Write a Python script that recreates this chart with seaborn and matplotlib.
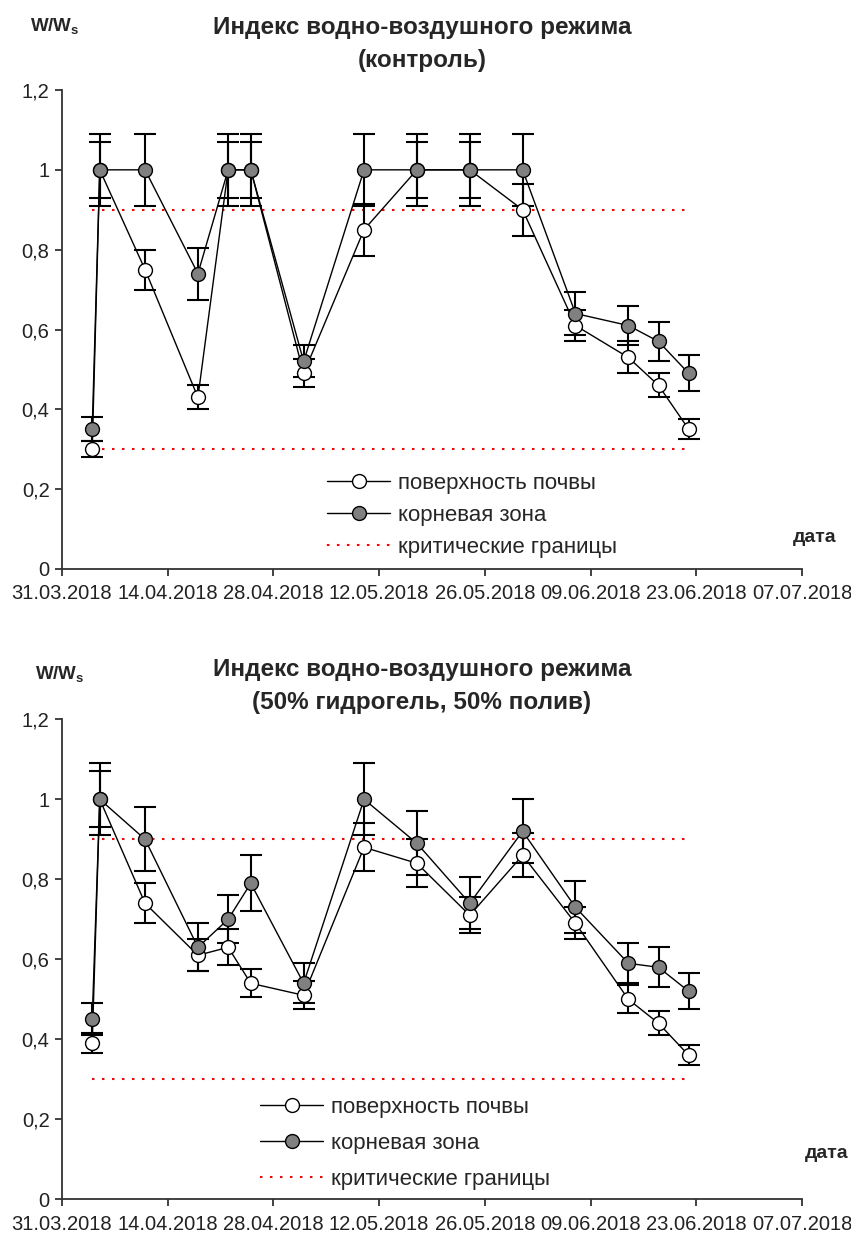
import numpy as np
import pandas as pd
import matplotlib
matplotlib.use("Agg")
import matplotlib.pyplot as plt
import matplotlib.dates as mdates
from matplotlib.lines import Line2D
from matplotlib.ticker import FuncFormatter, MultipleLocator
import seaborn as sns

# --- measurement dates ---
dates = ["04.04.2018", "05.04.2018", "11.04.2018", "18.04.2018", "22.04.2018",
         "25.04.2018", "02.05.2018", "10.05.2018", "17.05.2018", "24.05.2018",
         "31.05.2018", "07.06.2018", "14.06.2018", "18.06.2018", "22.06.2018"]

# --- control plot ---
ctrl_surface = [0.30, 1.00, 0.75, 0.43, 1.00, 1.00, 0.49, 0.85, 1.00, 1.00,
                0.90, 0.61, 0.53, 0.46, 0.35]
ctrl_surface_err = [0.02, 0.07, 0.05, 0.03, 0.07, 0.07, 0.035, 0.065, 0.07, 0.07,
                    0.065, 0.04, 0.04, 0.03, 0.025]
ctrl_root = [0.35, 1.00, 1.00, 0.74, 1.00, 1.00, 0.52, 1.00, 1.00, 1.00,
             1.00, 0.64, 0.61, 0.57, 0.49]
ctrl_root_err = [0.03, 0.09, 0.09, 0.065, 0.09, 0.09, 0.04, 0.09, 0.09, 0.09,
                 0.09, 0.055, 0.05, 0.05, 0.045]

# --- 50% hydrogel, 50% irrigation plot ---
gel_surface = [0.39, 1.00, 0.74, 0.61, 0.63, 0.54, 0.51, 0.88, 0.84, 0.71,
               0.86, 0.69, 0.50, 0.44, 0.36]
gel_surface_err = [0.025, 0.07, 0.05, 0.04, 0.045, 0.035, 0.035, 0.06, 0.06, 0.045,
                   0.055, 0.04, 0.035, 0.03, 0.025]
gel_root = [0.45, 1.00, 0.90, 0.63, 0.70, 0.79, 0.54, 1.00, 0.89, 0.74,
            0.92, 0.73, 0.59, 0.58, 0.52]
gel_root_err = [0.04, 0.09, 0.08, 0.06, 0.06, 0.07, 0.05, 0.09, 0.08, 0.065,
                0.08, 0.065, 0.05, 0.05, 0.045]

# critical bounds of the index
critical = [0.3, 0.9]

titles = ["Индекс водно-воздушного режима\n(контроль)",
          "Индекс водно-воздушного режима\n(50% гидрогель, 50% полив)"]
legend_labels = ["поверхность почвы", "корневая зона", "критические границы"]
x_start, x_end = "31.03.2018", "07.07.2018"

sns.set_style("white")
plt.rcParams["font.family"] = ["Liberation Sans", "DejaVu Sans"]

W, H = 851, 1239
fig = plt.figure(figsize=(W / 100, H / 100), dpi=100)

x = pd.to_datetime(dates, format="%d.%m.%Y")
xs = pd.to_datetime(x_start, format="%d.%m.%Y")
xe = pd.to_datetime(x_end, format="%d.%m.%Y")

def px_rect(left, top, right, bottom):
    return [left / W, 1 - bottom / H, (right - left) / W, (bottom - top) / H]

panels = [
    dict(rect=px_rect(62, 90, 802, 569), surf=ctrl_surface, surf_err=ctrl_surface_err,
         root=ctrl_root, root_err=ctrl_root_err, title_y=16, ylab=(30, 27),
         date_xy=(815, 538), leg=(327, 472.5), leg_sp=0.5),
    dict(rect=px_rect(62, 719.3, 802, 1199.3), surf=gel_surface, surf_err=gel_surface_err,
         root=gel_root, root_err=gel_root_err, title_y=658, ylab=(35, 675),
         date_xy=(827, 1153), leg=(260, 1096.5), leg_sp=0.68),
]

dot_style = (0, (1.2, 3.6))

for p, title in zip(panels, titles):
    ax = fig.add_axes(p["rect"])

    # critical bounds
    for c in critical:
        ax.plot([x[0], x[-1]], [c, c], color="#ff0000", lw=1.5,
                linestyle=dot_style, zorder=1)

    # error bars
    ax.errorbar(x, p["surf"], yerr=p["surf_err"], fmt="none", ecolor="black",
                elinewidth=1.5, capsize=8, capthick=1.5, zorder=2)
    ax.errorbar(x, p["root"], yerr=p["root_err"], fmt="none", ecolor="black",
                elinewidth=1.5, capsize=8, capthick=1.5, zorder=3)

    # series lines with markers
    sns.lineplot(x=x, y=p["surf"], ax=ax, sort=False, color="black", lw=1,
                 marker="o", markersize=10, markerfacecolor="white",
                 markeredgecolor="black", markeredgewidth=1, zorder=4)
    sns.lineplot(x=x, y=p["root"], ax=ax, sort=False, color="black", lw=1,
                 marker="o", markersize=10, markerfacecolor="#808080",
                 markeredgecolor="black", markeredgewidth=1, zorder=5)

    ax.set_xlim(xs, xe)
    ax.set_ylim(0, 1.2)
    ax.set_xticks(pd.date_range(xs, xe, freq="14D"))
    ax.xaxis.set_major_formatter(mdates.DateFormatter("%d.%m.%Y"))
    ax.yaxis.set_major_locator(MultipleLocator(0.2))
    ax.yaxis.set_major_formatter(FuncFormatter(
        lambda v, pos: ("%g" % round(v, 1)).replace(".", ",")))
    ax.set_xlabel("")
    ax.set_ylabel("")
    for s in ["top", "right"]:
        ax.spines[s].set_visible(False)
    for s in ["left", "bottom"]:
        ax.spines[s].set_color("#333333")
        ax.spines[s].set_linewidth(1.3)
    ax.tick_params(axis="both", direction="out", length=5, width=1.3,
                   color="#333333", labelsize=14.5, labelcolor="#222222",
                   bottom=True, left=True)
    ax.tick_params(axis="x", pad=6)
    ax.tick_params(axis="y", pad=4)
    ax.patch.set_alpha(0)

    fig.text(422 / W, 1 - p["title_y"] / H, title, ha="center", va="top",
             fontsize=17.5, fontweight="bold", linespacing=1.55)
    fig.text(p["ylab"][0] / W, 1 - p["ylab"][1] / H, r"W/W$_\mathregular{s}$",
             ha="left", va="center", fontsize=13.5, fontweight="bold")
    fig.text(p["date_xy"][0] / W, 1 - p["date_xy"][1] / H, "дата",
             ha="center", va="center", fontsize=14, fontweight="bold")

    handles = [
        Line2D([], [], color="black", lw=1, marker="o", markersize=10,
               markerfacecolor="white", markeredgecolor="black"),
        Line2D([], [], color="black", lw=1, marker="o", markersize=10,
               markerfacecolor="#808080", markeredgecolor="black"),
        Line2D([], [], color="#ff0000", lw=1.5, linestyle=dot_style),
    ]
    ax.legend(handles, legend_labels, loc="upper left",
              bbox_to_anchor=(p["leg"][0] / W, 1 - p["leg"][1] / H),
              bbox_transform=fig.transFigure, frameon=False, fontsize=16,
              handlelength=2.85, handletextpad=0.36, labelspacing=p["leg_sp"],
              borderpad=0, borderaxespad=0)

fig.savefig("out.png", dpi=100)
